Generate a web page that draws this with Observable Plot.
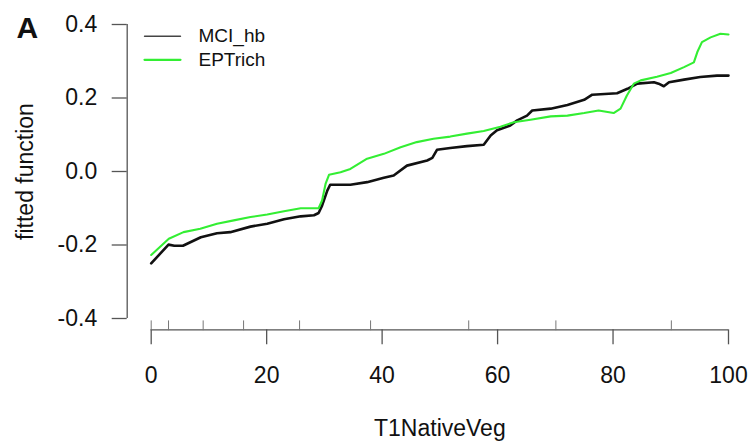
<!DOCTYPE html>
<html>
<head>
<meta charset="utf-8">
<script src="https://cdn.jsdelivr.net/npm/d3@7"></script>
<script src="https://cdn.jsdelivr.net/npm/@observablehq/plot@0.6"></script>
<style>
  html, body { margin: 0; padding: 0; background: #fff; }
</style>
</head>
<body>
<div id="chart"></div>
<script>
// ---- data ----
const seriesNames = ["MCI_hb", "EPTrich"];
const seriesColors = ["#111111", "#33ee33"];

const mciX = [0, 3.0, 4.0, 5.5, 8.6, 11.4, 13.7, 17.2, 20.1, 23.0, 25.9, 28.2, 29.0, 29.6, 30.5, 31.0, 34.5, 37.4, 40.3, 42.0, 44.3, 47.8, 48.7, 49.5, 51.8, 54.7, 57.6, 58.8, 59.9, 62.2, 63.4, 65.1, 66.0, 69.2, 72.1, 75.0, 76.4, 80.7, 82.5, 84.2, 87.1, 87.9, 88.8, 89.7, 92.3, 95.1, 98.0, 100];
const mciY = [-0.250, -0.199, -0.202, -0.202, -0.179, -0.168, -0.165, -0.150, -0.142, -0.130, -0.122, -0.119, -0.113, -0.093, -0.052, -0.036, -0.036, -0.029, -0.017, -0.011, 0.016, 0.030, 0.037, 0.059, 0.064, 0.069, 0.073, 0.098, 0.112, 0.125, 0.139, 0.152, 0.166, 0.171, 0.181, 0.195, 0.209, 0.213, 0.225, 0.239, 0.243, 0.239, 0.232, 0.243, 0.250, 0.257, 0.261, 0.261];

const eptX = [0, 3.05, 5.6, 8.5, 11.4, 14.3, 17.2, 20.1, 23.0, 25.9, 29.0, 29.6, 30.2, 30.8, 32.8, 34.5, 37.4, 40.3, 43.2, 46.0, 48.9, 51.8, 54.7, 57.6, 60.5, 62.8, 65.7, 69.2, 72.1, 75.0, 77.5, 80.1, 81.3, 82.4, 83.6, 84.8, 87.6, 90.0, 92.3, 94.0, 94.6, 95.4, 96.9, 98.6, 100];
const eptY = [-0.227, -0.183, -0.165, -0.156, -0.142, -0.133, -0.124, -0.117, -0.108, -0.100, -0.100, -0.079, -0.034, -0.009, -0.002, 0.007, 0.035, 0.048, 0.066, 0.080, 0.089, 0.095, 0.103, 0.110, 0.122, 0.134, 0.141, 0.150, 0.152, 0.159, 0.166, 0.159, 0.171, 0.207, 0.239, 0.248, 0.258, 0.268, 0.284, 0.297, 0.325, 0.352, 0.365, 0.375, 0.373];

const rugX = [0, 3.0, 9.0, 16.0, 25.7, 38.0, 55.0, 70.1, 90.1];
const xTicks = [0, 20, 40, 60, 80, 100];
const yTicks = [-0.4, -0.2, 0.0, 0.2, 0.4];
const xLabel = "T1NativeVeg";
const yLabel = "fitted function";
const panelLabel = "A";

// ---- build ----
const mciData = mciX.map((x, i) => ({x, y: mciY[i], s: seriesNames[0]}));
const eptData = eptX.map((x, i) => ({x, y: eptY[i], s: seriesNames[1]}));

const hline = {draw(context, l) { context.moveTo(0, 0); context.lineTo(l, 0); }};
const vline = {draw(context, l) { context.moveTo(0, 0); context.lineTo(0, -l); }};

const FONT = "'Liberation Sans', Arial, Helvetica, sans-serif";
const axisColor = "#555";

const legendMarks = [];
seriesNames.forEach((name, i) => {
  legendMarks.push(Plot.vector([name], {
    frameAnchor: "top-left", dx: -6.7, dy: 11.7 + i * 23.6,
    length: 36, rotate: 0, anchor: "start", shape: hline,
    stroke: i === 0 ? "#444" : seriesColors[1], strokeWidth: i === 0 ? 1.4 : 2.2
  }));
  legendMarks.push(Plot.text([name], {
    frameAnchor: "top-left", dx: 47.3, dy: 11.7 + i * 23.6,
    text: d => d, textAnchor: "start", lineAnchor: "middle",
    fontSize: 19, fill: "#111"
  }));
});

const chart = Plot.plot({
  width: 752,
  height: 445,
  marginLeft: 150.7,
  marginRight: 24,
  marginTop: 24,
  marginBottom: 127,
  style: {fontFamily: FONT, fontSize: "23px", background: "#fff", color: "#111"},
  x: {domain: [0, 100], inset: 0},
  y: {domain: [-0.4, 0.4], inset: 0},
  marks: [
    // y axis (detached, R-style)
    Plot.ruleX([0], {y1: -0.4, y2: 0.4, dx: -24, stroke: axisColor, strokeWidth: 1.3}),
    Plot.axisY(yTicks, {
      anchor: "left", tickSize: 15, tickPadding: 15, dx: -24,
      tickFormat: d => d.toFixed(1), label: null,
      stroke: axisColor, strokeWidth: 1.3, fontSize: 23, fill: "#111"
    }),
    // x axis (detached)
    Plot.ruleY([-0.4], {x1: 0, x2: 100, dy: 11.3, stroke: axisColor, strokeWidth: 1.3}),
    Plot.axisX(xTicks, {
      anchor: "bottom", tickSize: 15, tickPadding: 22, dy: 11.3,
      tickFormat: d => String(d), label: null,
      stroke: axisColor, strokeWidth: 1.3, fontSize: 23, fill: "#111"
    }),
    // rug ticks
    Plot.vector(rugX, {
      x: d => d, y: -0.4, dy: 11.3, length: 9, rotate: 0, anchor: "start",
      shape: vline, stroke: "#777", strokeWidth: 1
    }),
    // lines
    Plot.line(mciData, {x: "x", y: "y", stroke: seriesColors[0], strokeWidth: 2.6, strokeLinejoin: "round"}),
    Plot.line(eptData, {x: "x", y: "y", stroke: seriesColors[1], strokeWidth: 2.1, strokeLinejoin: "round"}),
    // legend
    ...legendMarks,
    // labels
    Plot.text([xLabel], {frameAnchor: "bottom", dy: 110.6, text: d => d, textAnchor: "middle", lineAnchor: "middle", fontSize: 23, fill: "#111"}),
    Plot.text([yLabel], {frameAnchor: "left", dx: -125.1, rotate: -90, text: d => d, textAnchor: "middle", lineAnchor: "middle", fontSize: 23, fill: "#111"}),
    Plot.text([panelLabel], {frameAnchor: "top-left", dx: -134.7, dy: 3.4, text: d => d, textAnchor: "start", lineAnchor: "middle", fontSize: 30, fontWeight: "bold", fill: "#111"})
  ]
});

document.getElementById("chart").appendChild(chart);
</script>
</body>
</html>
